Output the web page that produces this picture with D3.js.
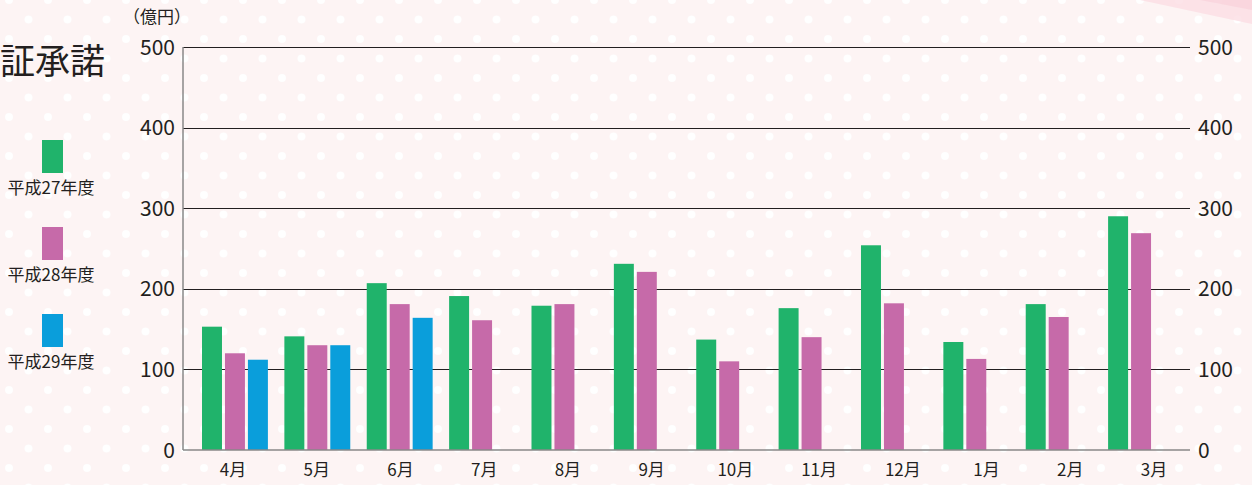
<!DOCTYPE html>
<html>
<head>
<meta charset="utf-8">
<script src="https://cdn.jsdelivr.net/npm/d3@7"></script>
<style>
  html, body { margin: 0; padding: 0; background: #fdf4f4; }
  svg { display: block; font-family: "Noto Sans CJK JP", "Noto Sans", sans-serif; }
</style>
</head>
<body>
<div id="chart"></div>
<script>
const months = ['4月', '5月', '6月', '7月', '8月', '9月', '10月', '11月', '12月', '1月', '2月', '3月'];
const seriesNames = ['平成27年度', '平成28年度', '平成29年度'];
const h27 = [153, 141, 207, 191, 179, 231, 137, 176, 254, 134, 181, 290];
const h28 = [120, 130, 181, 161, 181, 221, 110, 140, 182, 113, 165, 269];
const h29 = [112, 130, 164, null, null, null, null, null, null, null, null, null];
const yTicks = [0, 100, 200, 300, 400, 500];
const colors = ['#20b36b', '#c66aa9', '#0a9edb'];

const width = 1252, height = 485;
const plotLeft = 183, plotRight = 1190, plotTop = 47, plotBottom = 450;

const svg = d3.select('#chart').append('svg')
  .attr('width', width)
  .attr('height', height);

// dotted background
const defs = svg.append('defs');
const pat = defs.append('pattern')
  .attr('id', 'dots')
  .attr('patternUnits', 'userSpaceOnUse')
  .attr('width', 39).attr('height', 39);
pat.append('rect').attr('width', 39).attr('height', 39).attr('fill', '#fdf4f4');
pat.append('circle').attr('cx', 9).attr('cy', 0).attr('r', 4).attr('fill', '#fff');
pat.append('circle').attr('cx', 9).attr('cy', 39).attr('r', 4).attr('fill', '#fff');
pat.append('circle').attr('cx', 28.5).attr('cy', 19.5).attr('r', 4).attr('fill', '#fff');
svg.append('rect').attr('width', width).attr('height', height).attr('fill', 'url(#dots)');

// pink ribbon in the corner
svg.append('path')
  .attr('d', 'M1140,0 L1252,0 L1252,24 Z')
  .attr('fill', '#fbdde4').attr('opacity', 0.8);
svg.append('path')
  .attr('d', 'M1200,0 L1252,0 L1252,10 Z')
  .attr('fill', '#f8cfd9').attr('opacity', 0.6);

const y = d3.scaleLinear().domain([0, 500]).range([plotBottom, plotTop]);

const x0 = d3.scaleBand().domain(months).range([202, 1174]).paddingInner(0.2).paddingOuter(0);
const x1 = d3.scaleBand().domain(seriesNames).range([0, x0.bandwidth()]).paddingInner(0.13).paddingOuter(0);
const xLabel = d3.scalePoint().domain(months).range([233, 1154]);

// gridlines
svg.append('g').selectAll('line')
  .data(yTicks.filter(d => d > 0))
  .enter().append('line')
  .attr('x1', plotLeft).attr('x2', plotRight)
  .attr('y1', d => Math.round(y(d)) + 0.5).attr('y2', d => Math.round(y(d)) + 0.5)
  .attr('stroke', '#231f20').attr('stroke-width', 1);

// bars
const series = [h27, h28, h29];
const barData = [];
series.forEach((vals, si) => {
  vals.forEach((v, mi) => {
    if (v !== null) barData.push({ month: months[mi], name: seriesNames[si], value: v, color: colors[si] });
  });
});

svg.append('g').selectAll('rect')
  .data(barData)
  .enter().append('rect')
  .attr('x', d => x0(d.month) + x1(d.name))
  .attr('y', d => y(d.value))
  .attr('width', x1.bandwidth())
  .attr('height', d => y(0) - y(d.value))
  .attr('fill', d => d.color);

// axes lines
svg.append('line')
  .attr('x1', plotLeft).attr('x2', plotRight).attr('y1', plotBottom).attr('y2', plotBottom)
  .attr('stroke', '#888').attr('stroke-width', 1.5);
svg.append('line')
  .attr('x1', plotLeft).attr('x2', plotLeft).attr('y1', plotTop).attr('y2', plotBottom)
  .attr('stroke', '#888').attr('stroke-width', 1.5);

// y tick labels
svg.append('g').selectAll('text')
  .data(yTicks)
  .enter().append('text')
  .attr('x', 175)
  .attr('y', d => y(d))
  .attr('dy', '0.36em')
  .attr('text-anchor', 'end')
  .attr('font-size', 21)
  .attr('fill', '#231f20')
  .text(d => d);
svg.append('g').selectAll('text')
  .data(yTicks)
  .enter().append('text')
  .attr('x', 1198)
  .attr('y', d => y(d))
  .attr('dy', '0.36em')
  .attr('text-anchor', 'start')
  .attr('font-size', 21)
  .attr('fill', '#231f20')
  .text(d => d);

// month labels
svg.append('g').selectAll('text')
  .data(months)
  .enter().append('text')
  .attr('x', d => xLabel(d))
  .attr('y', 470)
  .attr('dy', '0.36em')
  .attr('text-anchor', 'middle')
  .attr('font-size', 17)
  .attr('fill', '#231f20')
  .text(d => d);

// unit
svg.append('text')
  .attr('x', 157).attr('y', 17)
  .attr('dy', '0.36em')
  .attr('text-anchor', 'middle')
  .attr('font-size', 17)
  .attr('fill', '#231f20')
  .text('（億円）');

// title (clipped at the left edge)
svg.append('text')
  .attr('x', 0).attr('y', 61)
  .attr('dy', '0.36em')
  .attr('font-size', 35)
  .attr('fill', '#231f20')
  .text('証承諾');

// legend
const legend = svg.append('g').selectAll('g')
  .data(seriesNames)
  .enter().append('g')
  .attr('transform', (d, i) => `translate(0, ${140 + i * 87})`);
legend.append('rect')
  .attr('x', 42).attr('y', 0)
  .attr('width', 21).attr('height', 33)
  .attr('fill', (d, i) => colors[i]);
legend.append('text')
  .attr('x', 51).attr('y', 48)
  .attr('dy', '0.36em')
  .attr('text-anchor', 'middle')
  .attr('font-size', 17)
  .attr('fill', '#231f20')
  .text(d => d);
</script>
</body>
</html>
